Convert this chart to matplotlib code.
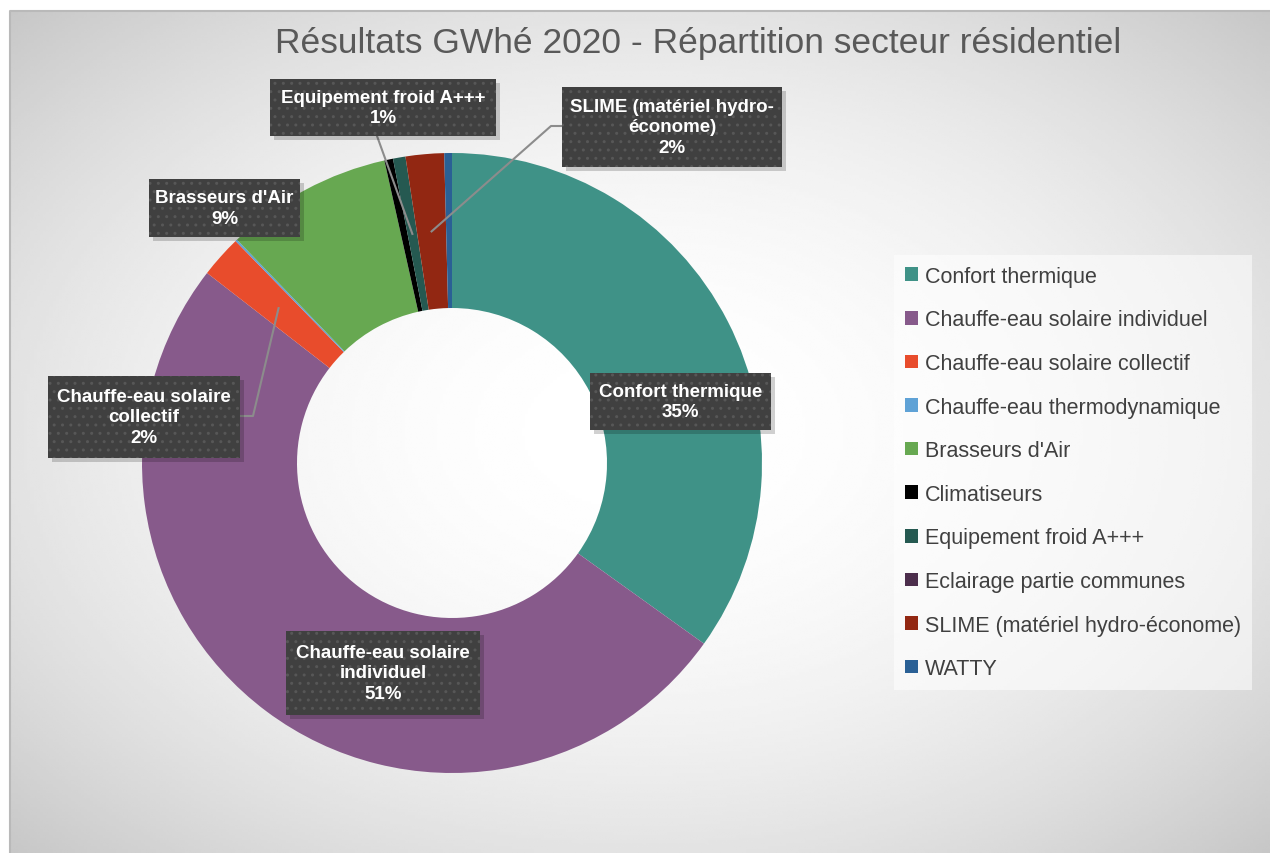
import numpy as np
import matplotlib.pyplot as plt
from matplotlib.lines import Line2D
from matplotlib.patches import Rectangle

W, H = 1270, 854

title = "Résultats GWhé 2020 - Répartition secteur résidentiel"

categories = [
    "Confort thermique",
    "Chauffe-eau solaire individuel",
    "Chauffe-eau solaire collectif",
    "Chauffe-eau thermodynamique",
    "Brasseurs d'Air",
    "Climatiseurs",
    "Equipement froid A+++",
    "Eclairage partie communes",
    "SLIME (matériel hydro-économe)",
    "WATTY",
]
# part of the total (%)
values = [34.9, 50.6, 2.2, 0.1, 8.7, 0.45, 0.65, 0.0, 2.0, 0.4]
colors = ["#3f9287", "#875a8b", "#e84c2c", "#5fa2d6", "#67a851",
          "#000000", "#255951", "#4c2e4c", "#922712", "#2a6095"]

# data labels shown on the chart (index -> wrapped text)
label_names = {
    0: "Confort thermique",
    1: "Chauffe-eau solaire\nindividuel",
    2: "Chauffe-eau solaire\ncollectif",
    4: "Brasseurs d'Air",
    6: "Equipement froid A+++",
    8: "SLIME (matériel hydro-\néconome)",
}
# label boxes in pixels: left, top, right, bottom (layout)
label_box = {
    0: (590, 374, 771, 431),
    1: (286, 632, 480, 716),
    2: (48, 377, 240, 459),
    4: (149, 180, 300, 238),
    6: (270, 80, 496, 137),
    8: (562, 88, 782, 168),
}
# leader lines: (start on box edge, elbow) in pixels
leaders = {
    2: [(240, 417), (253, 417)],
    6: [(377, 137), (377, 137)],
    8: [(562, 127), (551, 127)],
}

FONT = ["Liberation Sans", "DejaVu Sans"]

fig = plt.figure(figsize=(W / 100, H / 100), dpi=100)
fig.patch.set_facecolor("white")

# ---------- background: radial grey gradient ----------
bg = fig.add_axes([10 / W, 0, 1 - 10 / W, 1 - 12 / H])
gx, gy = np.meshgrid(np.linspace(-1, 1, 400), np.linspace(-1, 1, 300))
d2 = gx ** 2 + gy ** 2
shade = np.clip(1 - 0.11 * d2, 0, 1)
bg.imshow(shade, cmap="gray", vmin=0, vmax=1, aspect="auto",
          extent=(0, 1, 0, 1), interpolation="bilinear")
bg.set_xlim(0, 1)
bg.set_ylim(0, 1)
bg.plot([0, 0, 1], [0, 1, 1], color="#b9b9b9", linewidth=1.5,
        transform=bg.transAxes, clip_on=False)
bg.set_axis_off()


def fx(px):
    return px / W


def fy(py):
    return 1 - py / H


# ---------- donut ----------
cx, cy, R = 452, 464, 310
ax = fig.add_axes([(cx - R) / W, (H - cy - R) / H, 2 * R / W, 2 * R / H])
wedges, _ = ax.pie(values, colors=colors, startangle=90, counterclock=False,
                   radius=1, wedgeprops=dict(width=0.5, linewidth=0))
ax.set_xlim(-1, 1)
ax.set_ylim(-1, 1)
ax.set_axis_off()

total = sum(values)

# leader lines from box to mid-ring of the slice
for i, pts in leaders.items():
    w = wedges[i]
    mid = np.deg2rad((w.theta1 + w.theta2) / 2)
    ex, ey = ax.transData.transform((0.75 * np.cos(mid), 0.75 * np.sin(mid)))
    xs = [fx(p[0]) for p in pts] + [ex / W]
    ys = [fy(p[1]) for p in pts] + [ey / H]
    fig.add_artist(Line2D(xs, ys, transform=fig.transFigure,
                          color="#8c8c8c", linewidth=1.5, zorder=5))

# data label boxes
for i, txt in label_names.items():
    pct = values[i] / total * 100
    l, t, r, b = label_box[i]
    # soft shadow
    fig.add_artist(Rectangle((fx(l + 4), fy(b + 4)), (r - l) / W, (b - t) / H,
                             transform=fig.transFigure, facecolor="black",
                             alpha=0.18, edgecolor="none", zorder=8))
    fig.add_artist(Rectangle((fx(l), fy(b)), (r - l) / W, (b - t) / H,
                             transform=fig.transFigure, facecolor="#404040",
                             edgecolor="#575757", linewidth=0.0, hatch="..",
                             zorder=9))
    fig.text(fx((l + r) / 2), fy((t + b) / 2), f"{txt}\n{pct:.0f}%",
             ha="center", va="center", color="white", fontsize=13.5,
             fontweight="bold", family=FONT, linespacing=1.3, zorder=10)

# ---------- title ----------
fig.text(fx(698), fy(44), title, ha="center", va="center",
         fontsize=25.5, color="#595959", family=FONT)

# ---------- legend ----------
leg = fig.legend(wedges, categories, loc="upper left",
                 bbox_to_anchor=(fx(894), fy(256)),
                 prop=dict(family=FONT, size=15.5),
                 frameon=True, fancybox=False, framealpha=0.55,
                 facecolor="white", edgecolor="none",
                 handlelength=0.6, handleheight=0.6, handletextpad=0.35,
                 labelspacing=1.05, borderpad=0.5, borderaxespad=0)
for text in leg.get_texts():
    text.set_color("#404040")

fig.savefig("out.png", dpi=100)
